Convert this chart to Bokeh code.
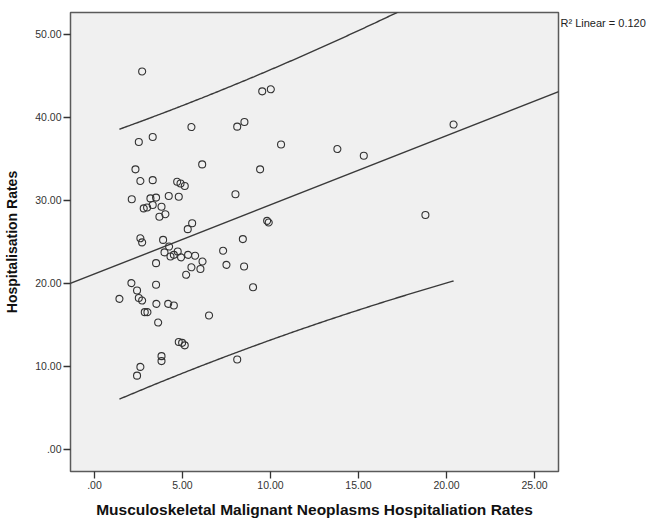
import numpy as np
from bokeh.plotting import figure
from bokeh.models import Range1d, FixedTicker, Slope, LinearAxis
from bokeh.embed import file_html
from bokeh.resources import INLINE

# Musculoskeletal malignant neoplasms hospitalisation rates (x) vs hospitalisation rates (y)
msk_rates = [2.71, 9.53, 10.02, 5.51, 8.11, 8.52, 2.52, 3.31, 10.6, 13.8, 15.3, 2.33, 6.12, 9.41,
             2.61, 3.31, 4.70, 4.89, 5.13, 8.01, 2.12, 3.18, 3.50, 4.22, 4.79, 2.80, 2.99, 3.31,
             3.81, 4.03, 3.69, 5.55, 5.30, 9.81, 9.90, 2.61, 2.71, 3.90, 8.43, 4.24, 7.31, 3.98,
             4.32, 4.51, 4.73, 4.92, 5.32, 5.72, 6.14, 3.50, 7.50, 8.50, 5.51, 6.02, 5.21, 9.01,
             2.10, 3.50, 2.42, 1.42, 2.52, 2.71, 3.52, 4.19, 4.51, 2.86, 3.01, 6.51, 3.62, 4.79,
             4.98, 5.13, 3.81, 3.81, 8.11, 2.61, 2.42, 18.8, 20.4]
hosp_rates = [45.5, 43.1, 43.35, 38.8, 38.85, 39.4, 37.0, 37.6, 36.7, 36.15, 35.35, 33.7, 34.3, 33.7,
              32.3, 32.4, 32.2, 32.0, 31.7, 30.7, 30.1, 30.2, 30.3, 30.5, 30.4, 29.0, 29.1, 29.4,
              29.2, 28.3, 28.0, 27.2, 26.5, 27.5, 27.3, 25.4, 24.9, 25.2, 25.3, 24.4, 23.9, 23.7,
              23.2, 23.4, 23.8, 23.1, 23.4, 23.3, 22.6, 22.4, 22.2, 22.0, 21.9, 21.7, 21.0, 19.5,
              20.0, 19.8, 19.1, 18.1, 18.2, 17.9, 17.5, 17.5, 17.3, 16.5, 16.5, 16.1, 15.25, 12.9,
              12.8, 12.5, 11.2, 10.6, 10.8, 9.9, 8.85, 28.2, 39.1]

x_ticks = [0, 5, 10, 15, 20, 25]
x_tick_labels = [".00", "5.00", "10.00", "15.00", "20.00", "25.00"]
y_ticks = [0, 10, 20, 30, 40, 50]
y_tick_labels = [".00", "10.00", "20.00", "30.00", "40.00", "50.00"]
r2_text = "R\u00b2 Linear = 0.120"
T_975 = 1.991  # t quantile, df = n - 2

x = np.array(msk_rates)
y = np.array(hosp_rates)
n = len(x)
xbar, ybar = x.mean(), y.mean()
sxx = ((x - xbar) ** 2).sum()
b = ((x - xbar) * (y - ybar)).sum() / sxx
a = ybar - b * xbar
resid = y - (a + b * x)
s = np.sqrt((resid ** 2).sum() / (n - 2))
xg = np.linspace(x.min(), x.max(), 200)
half = T_975 * s * np.sqrt(1 + 1 / n + (xg - xbar) ** 2 / sxx)
yhat = a + b * xg

FONT = "'Liberation Sans', Arial, sans-serif"

p = figure(width=651, height=520, output_backend="svg", toolbar_location=None,
           x_range=Range1d(-1.36, 26.36), y_range=Range1d(-2.7, 52.6),
           min_border_left=70, min_border_right=93, min_border_top=12, min_border_bottom=49)
p.background_fill_color = "#F0F0F0"
p.border_fill_color = "white"
p.outline_line_color = "#5a5a5a"
p.outline_line_width = 1.5
p.grid.visible = False

for ax, ticks, labels in ((p.xaxis[0], x_ticks, x_tick_labels), (p.yaxis[0], y_ticks, y_tick_labels)):
    ax.ticker = FixedTicker(ticks=ticks)
    ax.major_label_overrides = {t: l for t, l in zip(ticks, labels)}
    ax.axis_line_color = None
    ax.major_tick_line_color = "#333333"
    ax.major_tick_line_width = 1.3
    ax.major_tick_out = 7
    ax.major_tick_in = 0
    ax.minor_tick_line_color = None
    ax.major_label_text_font = FONT
    ax.major_label_text_font_size = "10.5px"
    ax.major_label_text_color = "#333333"
    ax.major_label_standoff = 2
    ax.axis_label_text_font = FONT
    ax.axis_label_text_font_style = "bold"
    ax.axis_label_text_color = "#111111"

p.xaxis.axis_label = "Musculoskeletal Malignant Neoplasms Hospitaliation Rates"
p.xaxis.axis_label_text_font_size = "15.5px"
p.xaxis.axis_label_standoff = 9
p.yaxis.axis_label = "Hospitalisation Rates"
p.yaxis.axis_label_text_font_size = "14px"
p.yaxis.axis_label_standoff = 12

# R² note placed just right of the frame, at the top
r2_axis = LinearAxis(ticker=FixedTicker(ticks=[51.3]), major_label_overrides={51.3: r2_text},
                     axis_line_color=None, major_tick_line_color=None, minor_tick_line_color=None,
                     major_tick_out=0, major_tick_in=0, major_label_standoff=2,
                     major_label_text_font=FONT, major_label_text_font_size="11px",
                     major_label_text_color="#222222")
p.add_layout(r2_axis, "right")

p.add_layout(Slope(gradient=b, y_intercept=a, line_color="#3a3a3a", line_width=1.4))
p.line(xg, yhat + half, line_color="#3a3a3a", line_width=1.4)
p.line(xg, yhat - half, line_color="#3a3a3a", line_width=1.4)

p.scatter(x, y, marker="circle", size=7, fill_color=None, line_color="#333333", line_width=1.1)

open("out.html", "w").write(file_html(p, INLINE))
